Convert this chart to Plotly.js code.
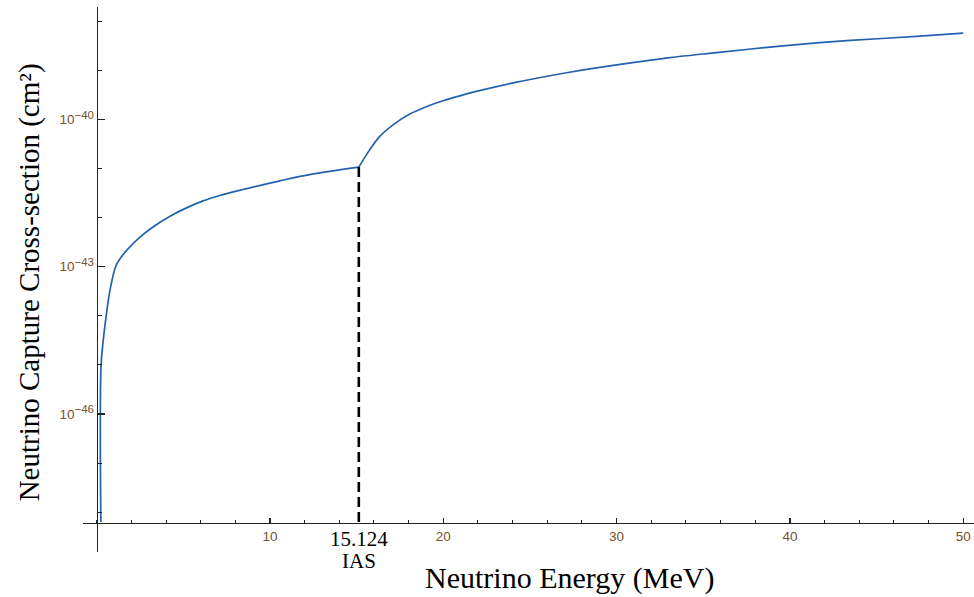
<!DOCTYPE html>
<html>
<head>
<meta charset="utf-8">
<script src="https://cdn.plot.ly/plotly-3.0.1.min.js"></script>
<style>html,body{margin:0;padding:0;background:#fff}#chart{width:974px;height:597px}</style>
</head>
<body>
<div id="chart"></div>
<script>
// Below the IAS (15.124 MeV): energy (MeV) and cross-section (cm^2)
const energyBelowIAS = [0.24, 0.25, 0.38, 0.54, 0.77, 1.09, 1.23, 1.44, 1.82, 2.48, 3.25, 4.23, 5.18, 6.14, 7.1, 8.06, 10.58, 12.5, 15.124];
const sigmaBelowIAS  = [6.3e-49, 9.33e-46, 3.24e-45, 9.55e-45, 3.39e-44, 1.0e-43, 1.26e-43, 1.62e-43, 2.34e-43, 3.98e-43, 6.46e-43, 1.07e-42, 1.58e-42, 2.19e-42, 2.82e-42, 3.47e-42, 5.62e-42, 7.76e-42, 1.07e-41];
// Above the IAS
const energyAboveIAS = [15.124, 15.75, 16.32, 17.1, 18.06, 19.02, 19.98, 20.95, 21.9, 24.23, 26.15, 28.08, 30.0, 33.08, 35.76, 39.6, 43.47, 47.3, 50.0];
const sigmaAboveIAS  = [1.07e-41, 2.40e-41, 4.47e-41, 7.76e-41, 1.29e-40, 1.82e-40, 2.40e-40, 3.02e-40, 3.72e-40, 5.75e-40, 7.76e-40, 1.02e-39, 1.29e-39, 1.82e-39, 2.29e-39, 3.16e-39, 4.07e-39, 4.90e-39, 5.75e-39];
// IAS marker
const iasEnergy = [15.124, 15.124];
const iasSigma  = [6.3e-49, 1.07e-41];
const iasLabel = "15.124";
const iasName = "IAS";
// Axis ticks
const xTickVals = [10, 20, 30, 40, 50];
const xTickText = ["10", "20", "30", "40", "50"];
const yTickVals = [1e-46, 1e-43, 1e-40];
const yTickExp = ["−46", "−43", "−40"];
const yMinorVals = [1e-48, 1e-47, 1e-45, 1e-44, 1e-42, 1e-41, 1e-39, 1e-38];
const xTitle = "Neutrino Energy (MeV)";
const yTitle = "Neutrino Capture Cross-section (cm²)";

const yTickText = yTickExp.map(e => "10<sup><span style='font-size:11.5px'>" + e + "</span></sup>");
const curveColor = "#2462ad";
const traces = [
  {x: energyBelowIAS, y: sigmaBelowIAS, mode: "lines", line: {color: curveColor, width: 1.7, shape: "spline", smoothing: 1}, hoverinfo: "x+y"},
  {x: energyAboveIAS, y: sigmaAboveIAS, mode: "lines", line: {color: curveColor, width: 1.7, shape: "spline", smoothing: 0.8}, hoverinfo: "x+y"},
  {x: iasEnergy, y: iasSigma, mode: "lines", line: {color: "#000", width: 2.6, dash: "10px,5px"}, hoverinfo: "skip"}
];

const tickFont = {family: "Liberation Sans, Arial, sans-serif", size: 13.5, color: "#7a502c"};
const serif = "Liberation Serif, Times New Roman, serif";
const layout = {
  width: 974, height: 597,
  margin: {l: 83, r: 0, t: 7, b: 45},
  paper_bgcolor: "#fff", plot_bgcolor: "#fff",
  showlegend: false,
  xaxis: {
    range: [-0.79, 50.62], anchor: "free", position: 0.0532,
    showgrid: false, zeroline: false, showline: true, linecolor: "#222", linewidth: 1.3,
    ticks: "inside", ticklen: 5, tickwidth: 1.2, tickcolor: "#222",
    tickmode: "array", tickvals: xTickVals, ticktext: xTickText, tickfont: tickFont,
    minor: {tickmode: "linear", tick0: 0, dtick: 2, ticks: "inside", ticklen: 3, tickwidth: 1, tickcolor: "#222", showgrid: false}
  },
  yaxis: {
    type: "log", range: [-48.81, -37.71], anchor: "free", position: 0.01538,
    showgrid: false, zeroline: false, showline: true, linecolor: "#222", linewidth: 1.3,
    ticks: "inside", ticklen: 7, tickwidth: 1.2, tickcolor: "#222",
    tickmode: "array", tickvals: yTickVals, ticktext: yTickText, tickfont: tickFont,
    minor: {tickmode: "array", tickvals: yMinorVals, ticks: "inside", ticklen: 4, tickwidth: 1, tickcolor: "#222", showgrid: false}
  },
  annotations: [
    {x: iasEnergy[0], xref: "x", y: 0.0239, yref: "paper", text: iasLabel, showarrow: false, xanchor: "center", yanchor: "middle", font: {family: serif, size: 21, color: "#000"}},
    {x: iasEnergy[0], xref: "x", y: -0.0165, yref: "paper", text: iasName, showarrow: false, xanchor: "center", yanchor: "middle", font: {family: serif, size: 21, color: "#000"}},
    {x: 0.5455, xref: "paper", y: -0.0477, yref: "paper", text: xTitle, showarrow: false, xanchor: "center", yanchor: "middle", font: {family: serif, size: 30, color: "#000"}},
    {x: -0.0605, xref: "paper", y: 0.495, yref: "paper", text: yTitle, textangle: -90, showarrow: false, xanchor: "center", yanchor: "middle", font: {family: serif, size: 29, color: "#000"}}
  ]
};
Plotly.newPlot("chart", traces, layout, {displayModeBar: false, staticPlot: true});
</script>
</body>
</html>
